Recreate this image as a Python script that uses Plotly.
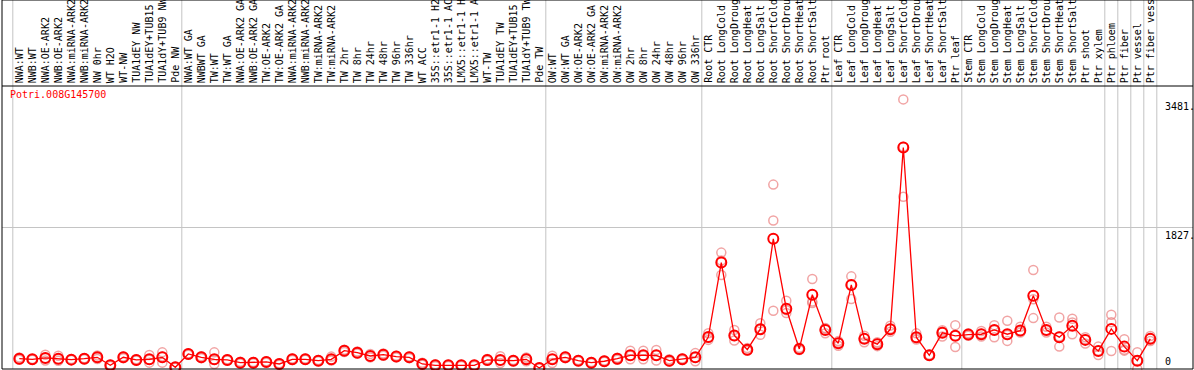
import plotly.graph_objects as go

gene_label = "Potri.008G145700"

samples = [
    "NWA:WT", "NWB:WT", "NWA:OE-ARK2", "NWB:OE-ARK2", "NWA:miRNA-ARK2", "NWB:miRNA-ARK2",
    "NW 0hr", "WT H2O", "WT-NW", "TUA1dEY NW", "TUA1dEY+TUB15 NW", "TUA1dY+TUB9 NW", "Pde NW",
    "NWA:WT GA", "NWBWT GA", "TW:WT", "TW:WT GA", "NWA:OE-ARK2 GA", "NWB:OE-ARK2 GA",
    "TW:OE-ARK2", "TW:OE-ARK2 GA", "NWA:miRNA-ARK2", "NWB:miRNA-ARK2", "TW:miRNA-ARK2",
    "TW:miRNA-ARK2", "TW 2hr", "TW 8hr", "TW 24hr", "TW 48hr", "TW 96hr", "TW 336hr", "WT ACC",
    "35S::etr1-1 H2O", "35S::etr1-1 ACC", "LMX5::etr1-1 H2O", "LMX5::etr1-1 ACC", "WT-TW",
    "TUA1dEY TW", "TUA1dEY+TUB15 TW", "TUA1dY+TUB9 TW", "Pde TW",
    "OW:WT", "OW:WT GA", "OW:OE-ARK2", "OW:OE-ARK2 GA", "OW:miRNA-ARK2", "OW:miRNA-ARK2",
    "OW 2hr", "OW 8hr", "OW 24hr", "OW 48hr", "OW 96hr", "OW 336hr",
    "Root CTR", "Root LongCold", "Root LongDrought", "Root LongHeat", "Root LongSalt",
    "Root ShortCold", "Root ShortDrought", "Root ShortHeat", "Root ShortSalt", "Ptr root",
    "Leaf CTR", "Leaf LongCold", "Leaf LongDrought", "Leaf LongHeat", "Leaf LongSalt",
    "Leaf ShortCold", "Leaf ShortDrought", "Leaf ShortHeat", "Leaf ShortSalt", "Ptr leaf",
    "Stem CTR", "Stem LongCold", "Stem LongDrought", "Stem LongHeat", "Stem LongSalt",
    "Stem ShortCold", "Stem ShortDrought", "Stem ShortHeat", "Stem ShortSalt", "Ptr shoot",
    "Ptr xylem", "Ptr phloem", "Ptr fiber", "Ptr vessel", "Ptr fiber vessel",
]

mean_vals = [
    133, 125, 143, 133, 121, 133, 151, 48, 151, 117, 125, 151, 22,
    194, 151, 125, 117, 82, 82, 91, 65, 125, 125, 108, 125, 237, 211, 168, 185, 160, 151,
    65, 48, 48, 48, 48, 117, 117, 108, 125, 13,
    125, 151, 108, 82, 100, 133, 177, 177, 177, 108, 125, 151,
    413, 1374, 432, 250, 514, 1681, 778, 259, 959, 505,
    333, 1085, 389, 320, 514, 2860, 411, 177, 467, 428,
    445, 449, 505, 449, 496, 946, 505, 411, 557, 376,
    233, 518, 289, 108, 389,
]

rep_high = [
    150, 130, 185, 170, 128, 140, 175, 55, 160, 125, 180, 215, 30,
    200, 165, 215, 125, 95, 90, 100, 75, 135, 135, 115, 160, 250, 225, 195, 200, 170, 160,
    80, 60, 55, 55, 55, 130, 165, 115, 150, 20,
    170, 160, 115, 90, 110, 145, 237, 237, 245, 125, 135, 205,
    462, 1503, 505, 270, 592, 2381, 881, 275, 1162, 530,
    360, 1196, 430, 345, 560, 3481, 460, 185, 500, 566,
    460, 490, 566, 622, 545, 1279, 545, 665, 648, 410,
    289, 700, 385, 216, 425,
]

rep_mid = [
    130, 126, 140, 130, 120, 135, 150, 50, 152, 116, 120, 160, 22,
    196, 150, 120, 116, 80, 82, 92, 66, 126, 124, 110, 118, 240, 210, 165, 186, 160, 152,
    62, 48, 50, 48, 50, 118, 110, 108, 128, 14,
    128, 152, 108, 82, 100, 134, 170, 172, 176, 105, 126, 150,
    400, 1400, 425, 245, 510, 1918, 760, 258, 870, 520,
    340, 1090, 395, 330, 520, 2870, 400, 178, 480, 430,
    445, 455, 500, 440, 490, 900, 500, 420, 600, 385,
    235, 605, 250, 110, 395,
]

rep_low = [
    120, 118, 110, 105, 115, 125, 130, 40, 140, 110, 82, 82, 15,
    185, 140, 65, 110, 70, 75, 82, 55, 115, 118, 100, 110, 220, 200, 150, 170, 150, 140,
    55, 35, 40, 40, 40, 105, 78, 100, 100, 5,
    78, 140, 100, 75, 92, 120, 125, 125, 110, 95, 115, 100,
    376, 1214, 367, 235, 441, 752, 722, 245, 851, 460,
    300, 903, 345, 295, 480, 2225, 380, 170, 420, 285,
    430, 420, 411, 363, 470, 657, 470, 289, 449, 330,
    181, 233, 237, 0, 360,
]

group_bounds = [-0.5, 12.5, 40.5, 52.5, 62.5, 72.5, 83.5, 84.5, 85.5, 86.5, 87.5]
y_max = 3654
grid_value = 1827
right_labels = [("3481.", 3481), ("1827.", 1827), ("0", 0)]

xs = list(range(len(samples)))
FONT = "DejaVu Sans Mono"
PINK = "rgba(235,125,125,0.7)"

fig = go.Figure()
for reps in (rep_high, rep_mid, rep_low):
    fig.add_trace(go.Scatter(
        x=xs, y=reps, mode="markers", cliponaxis=False,
        marker=dict(symbol="circle-open", size=9, color=PINK,
                    line=dict(width=1.5, color=PINK)),
        hoverinfo="skip", showlegend=False))

fig.add_trace(go.Scatter(
    x=xs, y=mean_vals, mode="lines", line=dict(color="#ff0000", width=1.3),
    showlegend=False, cliponaxis=False))
fig.add_trace(go.Scatter(
    x=xs, y=mean_vals, mode="markers", cliponaxis=False,
    marker=dict(symbol="circle-open", size=10, color="#ff0000",
                line=dict(width=2, color="#ff0000")),
    showlegend=False))

shapes = []
top_extra = 1 + 86 / 283
for b in group_bounds:
    shapes.append(dict(type="line", xref="x", yref="paper", x0=b, x1=b, y0=0, y1=top_extra,
                       line=dict(color="#c4c4c4", width=1), layer="below"))
shapes.append(dict(type="line", xref="paper", yref="y", x0=0, x1=1, y0=grid_value, y1=grid_value,
                   line=dict(color="#c4c4c4", width=1), layer="below"))
shapes.append(dict(type="rect", xref="paper", yref="paper", x0=0, x1=1, y0=0, y1=top_extra,
                   line=dict(color="black", width=1)))
shapes.append(dict(type="line", xref="paper", yref="paper", x0=0, x1=1, y0=1, y1=1,
                   line=dict(color="black", width=1)))

annotations = []
for i, s in enumerate(samples):
    annotations.append(dict(x=i, y=1, xref="x", yref="paper", text=s, showarrow=False,
                            textangle=-90, xanchor="center", yanchor="bottom", yshift=2,
                            borderpad=0, font=dict(family=FONT, size=10, color="black")))
annotations.append(dict(x=0.006, y=0.97, xref="paper", yref="paper", text=gene_label,
                        showarrow=False, xanchor="left", yanchor="middle", borderpad=0,
                        font=dict(family=FONT, size=10, color="#ff0000")))
for txt, v in right_labels:
    annotations.append(dict(x=(1164 - 2) / 1191, y=v, xref="paper", yref="y", text=txt,
                            showarrow=False, xanchor="left",
                            yanchor="top" if v > 0 else "bottom",
                            yshift=-1 if v > 0 else 1, borderpad=0,
                            font=dict(family=FONT, size=10, color="black")))

fig.update_layout(
    width=1194, height=370,
    margin=dict(l=2, r=1, t=86, b=1, pad=0),
    paper_bgcolor="white", plot_bgcolor="white",
    xaxis=dict(range=[-(19.3 - 2) / 13, (1193 - 19.3) / 13], showgrid=False, zeroline=False,
               showticklabels=False, showline=False, ticks=""),
    yaxis=dict(range=[0, y_max], showgrid=False, zeroline=False, showticklabels=False,
               showline=False, ticks=""),
    shapes=shapes, annotations=annotations, showlegend=False,
)

fig.write_html("out.html", config={"displayModeBar": False},
               post_script="document.body.style.margin='0';document.body.style.overflow='hidden';")
